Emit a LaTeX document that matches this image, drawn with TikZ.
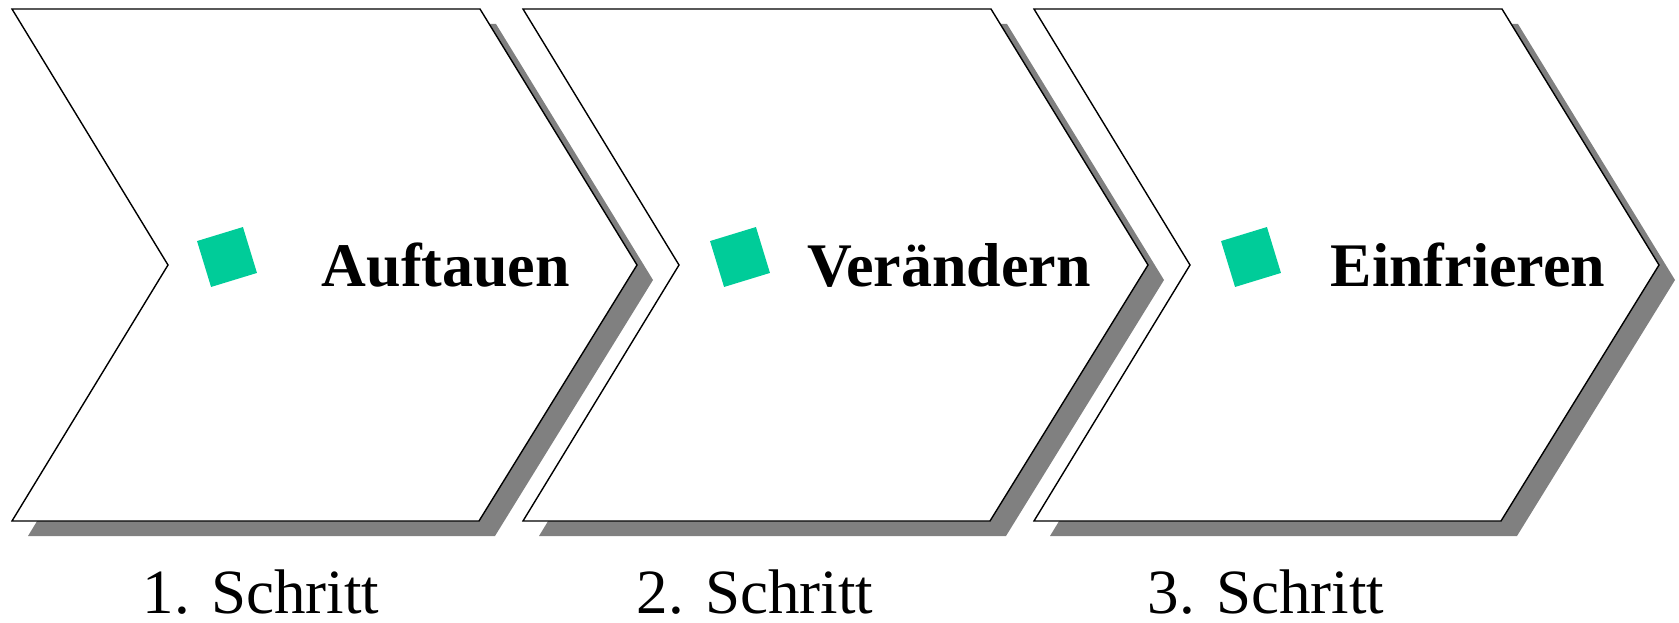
\documentclass[tikz,border=0pt]{standalone}
\usepackage{fontspec}
\setmainfont{Liberation Serif}
\usepackage{xcolor}
\usepackage{tikz}

\definecolor{stepgreen}{HTML}{00CC99}
\definecolor{shadowgrey}{HTML}{808080}

\begin{document}
\begin{tikzpicture}[x=1pt,y=-1pt,
		chevron/.style={draw=black,fill=white,line width=1.4pt,line join=miter},
		drop/.style={fill=shadowgrey,shift={(16,15)}},
		bullet/.style={fill=stepgreen,minimum size=48pt,inner sep=0pt,rotate=17},
		title/.style={anchor=base,font=\fontsize{62}{70}\selectfont\bfseries},
		stepname/.style={anchor=base,inner sep=0pt,font=\fontsize{63}{70}\selectfont}]
			\useasboundingbox (0,0) rectangle (1679,623);
			% shadows
			\fill[drop] (12,9) -- (480,9) -- (637,265) -- (479,521) -- (12,521) -- (168,265) -- cycle;
			\fill[drop] (523,9) -- (991,9) -- (1148,265) -- (990,521) -- (523,521) -- (679,265) -- cycle;
			\fill[drop] (1034,9) -- (1502,9) -- (1659,265) -- (1501,521) -- (1034,521) -- (1190,265) -- cycle;
			% chevrons
			\draw[chevron] (12,9) -- (480,9) -- (637,265) -- (479,521) -- (12,521) -- (168,265) -- cycle;
			\draw[chevron] (523,9) -- (991,9) -- (1148,265) -- (990,521) -- (523,521) -- (679,265) -- cycle;
			\draw[chevron] (1034,9) -- (1502,9) -- (1659,265) -- (1501,521) -- (1034,521) -- (1190,265) -- cycle;
			%
			\node[bullet] (b1) at (227,257) {};
			\node[bullet] (b2) at (740,257) {};
			\node[bullet] (b3) at (1251,257) {};
			%
			\node[title] (A) at (446,286) {Auftauen};
			\node[title] (B) at (949,286) {Verändern};
			\node[title] (C) at (1468,286) {Einfrieren};
			%
			\node[stepname] (A') at (261,613) {1. Schritt};
			\node[stepname] (B') at (755,613) {2. Schritt};
			\node[stepname] (C') at (1266,613) {3. Schritt};
		\end{tikzpicture}
\end{document}
